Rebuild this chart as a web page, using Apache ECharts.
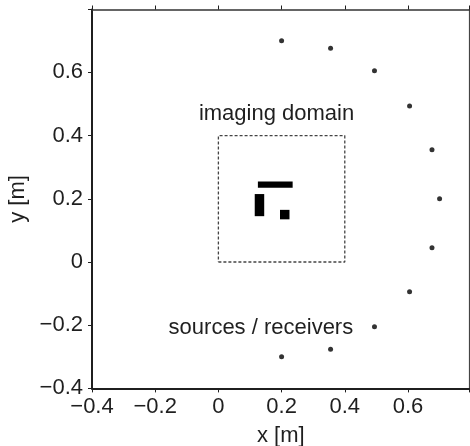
<!DOCTYPE html>
<html>
<head>
<meta charset="utf-8">
<script src="https://cdn.jsdelivr.net/npm/echarts@6/dist/echarts.min.js"></script>
<style>
  html, body { margin: 0; padding: 0; background: #fff; }
  #chart { width: 470px; height: 446px; }
</style>
</head>
<body>
<div id="chart"></div>
<script>
// Antenna positions on the half ring around the imaging region
const sourceX = [0.2, 0.355, 0.494, 0.605, 0.676, 0.7, 0.676, 0.605, 0.494, 0.355, 0.2];
const sourceY = [0.7, 0.676, 0.605, 0.494, 0.355, 0.2, 0.045, -0.094, -0.205, -0.276, -0.3];

// Scatterer blocks: [x0, y0, x1, y1]
const scatterers = [
  [0.125, 0.235, 0.235, 0.255],
  [0.115, 0.145, 0.145, 0.215],
  [0.195, 0.135, 0.225, 0.165]
];

// Imaging domain outline corners
const domainX = [0, 0.4, 0.4, 0, 0];
const domainY = [0, 0, 0.4, 0.4, 0];

// Annotations: [x, y, text]
const annotations = [
  [0.184, 0.469, 'imaging domain'],
  [0.1345, -0.2075, 'sources / receivers']
];

const xTicks = [-0.4, -0.2, 0, 0.2, 0.4, 0.6];
const yTicks = [-0.4, -0.2, 0, 0.2, 0.4, 0.6];

const FONT = 'Liberation Sans, Arial, Helvetica, sans-serif';
const TEXT = '#1f1f1f';
const fmt = v => {
  const r = Math.round(v * 10) / 10;
  if (!xTicks.includes(r) && !yTicks.includes(r)) return '';
  return String(r).replace('-', '\u2212');
};

const chart = echarts.init(document.getElementById('chart'), null, { renderer: 'canvas' });

const axisCommon = {
  type: 'value',
  interval: 0.2,
  splitLine: { show: false },
  axisLine: { show: true, onZero: false, lineStyle: { color: TEXT, width: 2 } },
  axisTick: { show: true, inside: false, length: 4, lineStyle: { color: TEXT, width: 1 } },
  axisLabel: { fontFamily: FONT, fontSize: 22, color: TEXT, margin: 8, formatter: fmt },
  nameTextStyle: { fontFamily: FONT, fontSize: 22, color: TEXT }
};

chart.setOption({
  animation: false,
  backgroundColor: '#fff',
  grid: {
    left: 92, top: 9.5, width: 377.6, height: 378.9,
    containLabel: false, outerBoundsMode: 'none'
  },
  xAxis: [
    Object.assign({}, axisCommon, {
      min: -0.4, max: 0.795, position: 'bottom',
      name: 'x [m]', nameLocation: 'middle', nameGap: 37
    }),
    Object.assign({}, axisCommon, {
      min: -0.4, max: 0.795, position: 'top',
      axisLine: { show: true, onZero: false, lineStyle: { color: '#333', width: 1.5 } },
      axisLabel: { show: false }
    })
  ],
  yAxis: [
    Object.assign({}, axisCommon, {
      min: -0.4, max: 0.799, position: 'left',
      name: 'y [m]', nameLocation: 'middle', nameGap: 51,
      axisLabel: Object.assign({}, axisCommon.axisLabel, { margin: 9 })
    }),
    Object.assign({}, axisCommon, {
      min: -0.4, max: 0.799, position: 'right',
      axisLine: { show: true, onZero: false, lineStyle: { color: '#444', width: 1.2 } },
      axisTick: { show: false },
      axisLabel: { show: false }
    })
  ],
  series: [
    {
      type: 'line',
      data: domainX.map((x, i) => [x, domainY[i]]),
      symbol: 'none',
      lineStyle: { color: '#444', width: 1.3, type: [3, 2] },
      z: 2
    },
    {
      type: 'custom',
      data: scatterers,
      renderItem: (params, api) => {
        const p0 = api.coord([api.value(0), api.value(3)]);
        const p1 = api.coord([api.value(2), api.value(1)]);
        return {
          type: 'rect',
          shape: { x: p0[0], y: p0[1], width: p1[0] - p0[0], height: p1[1] - p0[1] },
          style: { fill: '#000' }
        };
      },
      encode: { x: [0, 2], y: [1, 3] },
      z: 3
    },
    {
      type: 'scatter',
      data: sourceX.map((x, i) => [x, sourceY[i]]),
      symbol: 'circle',
      symbolSize: 5,
      itemStyle: { color: '#000' },
      z: 4
    },
    {
      type: 'custom',
      data: annotations,
      renderItem: (params, api) => {
        const p = api.coord([api.value(0), api.value(1)]);
        return {
          type: 'text',
          x: p[0], y: p[1],
          style: {
            text: annotations[params.dataIndex][2],
            fontFamily: FONT, fontSize: 22, fill: TEXT,
            align: 'center', verticalAlign: 'middle'
          }
        };
      },
      encode: { x: 0, y: 1 },
      z: 5
    }
  ]
});
</script>
</body>
</html>
